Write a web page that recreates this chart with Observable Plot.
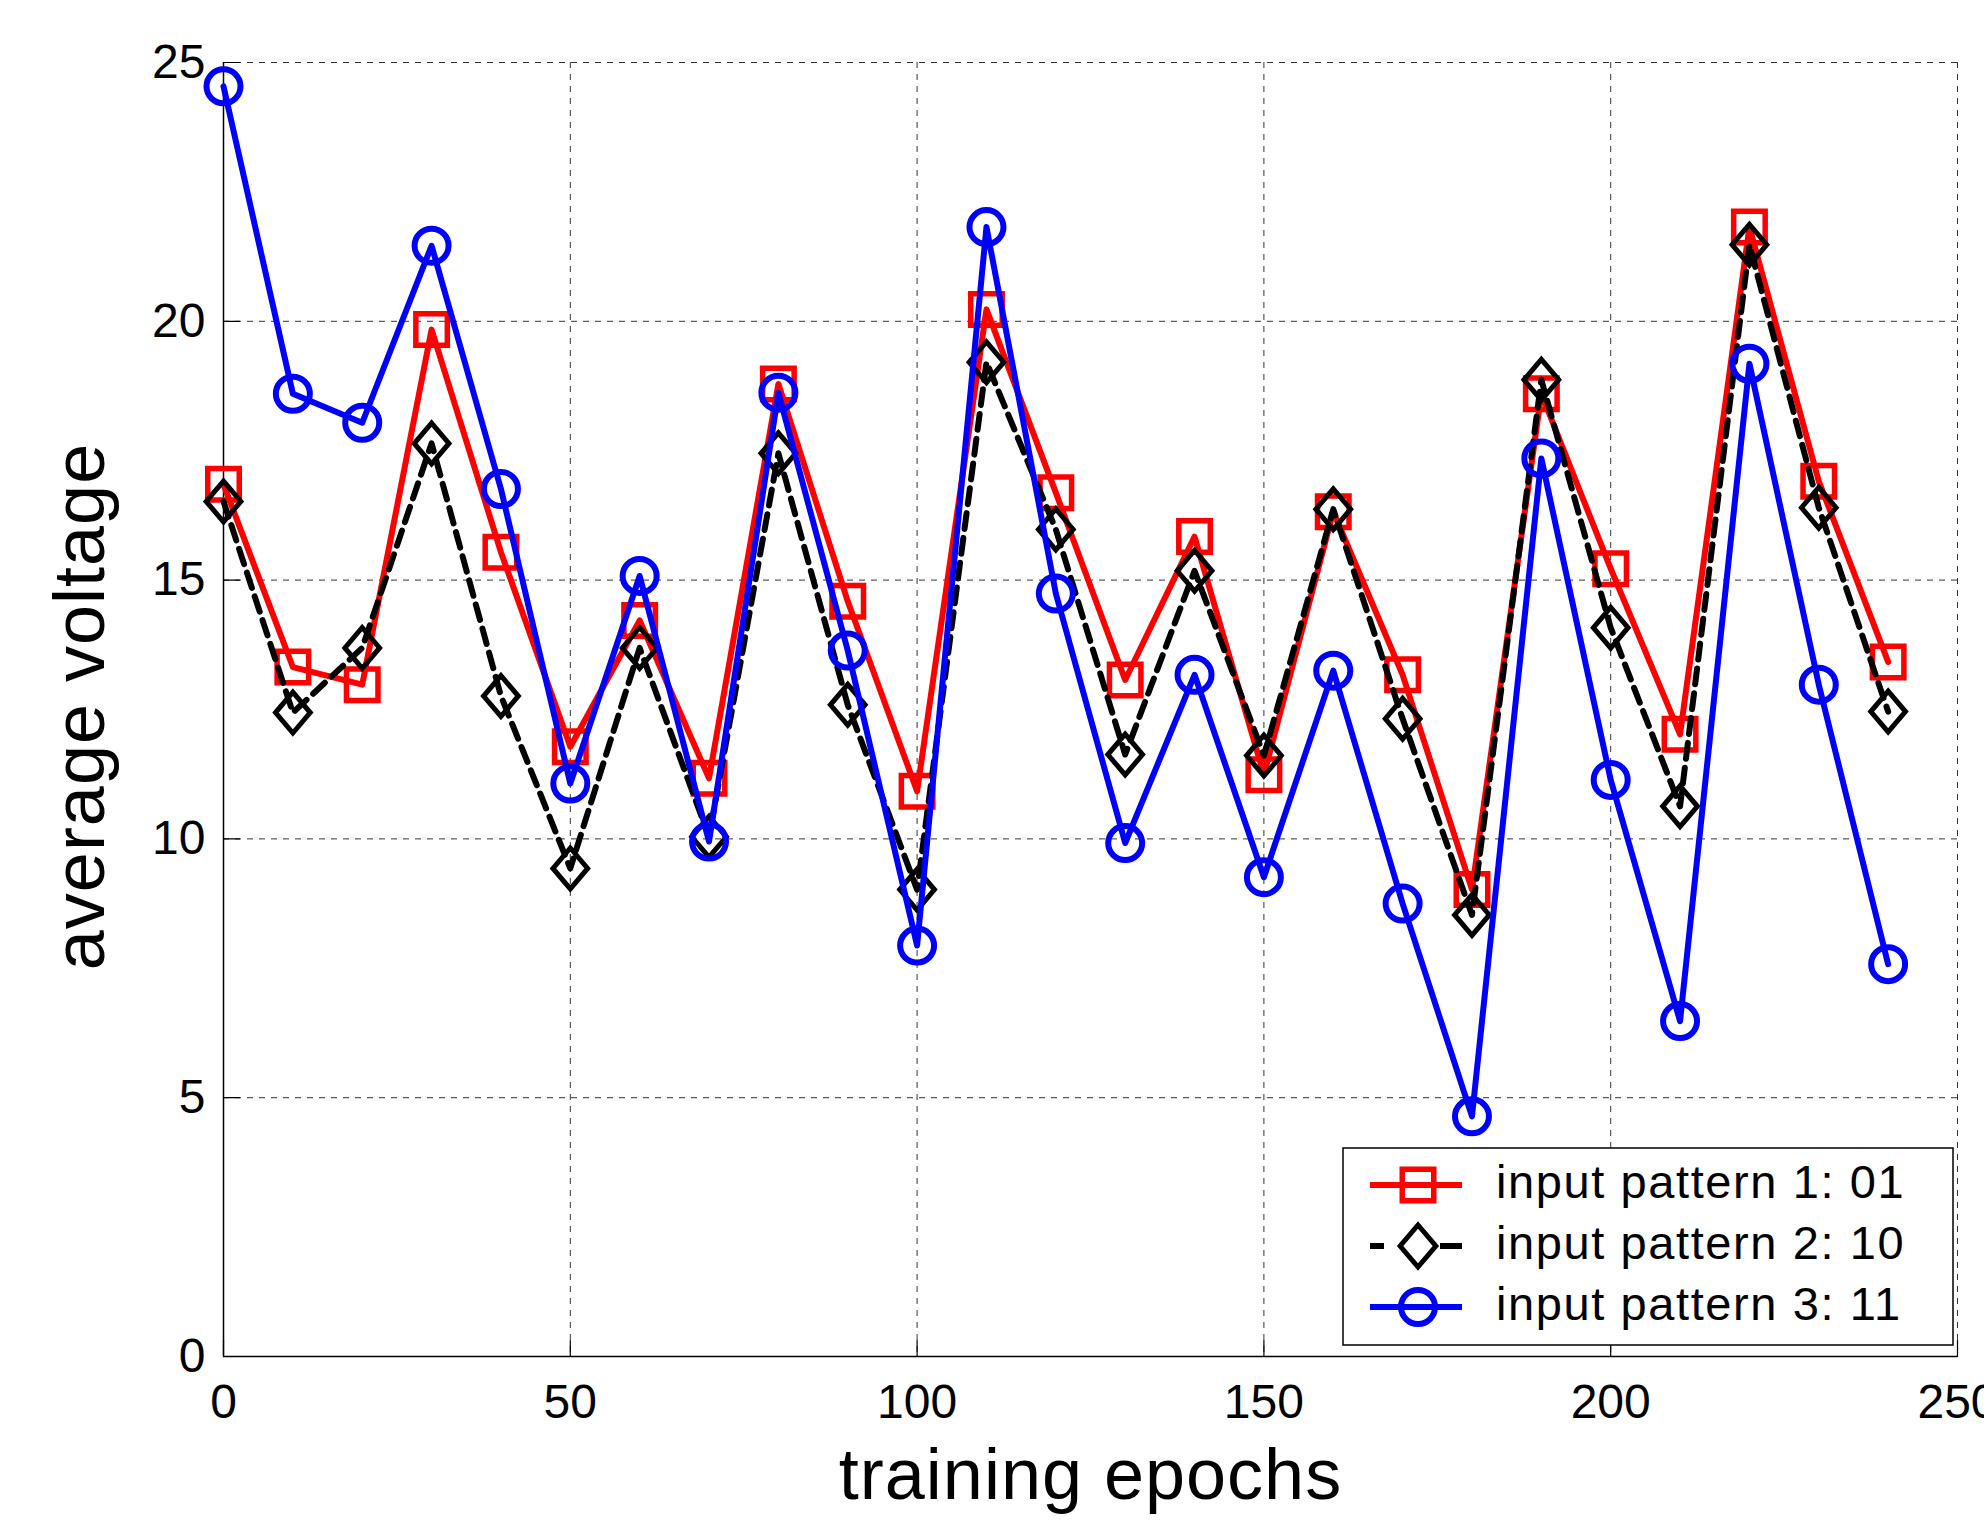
<!DOCTYPE html>
<html><head><meta charset="utf-8">
<script src="https://cdn.jsdelivr.net/npm/d3@7"></script>
<script src="https://cdn.jsdelivr.net/npm/@observablehq/plot@0.6"></script>
<style>
html,body{margin:0;padding:0;background:#fff;}
#chart{position:relative;width:1984px;height:1522px;overflow:hidden;}
</style></head><body><div id="chart"></div>
<script>
const epochs = [0,10,20,30,40,50,60,70,80,90,100,110,120,130,140,150,160,170,180,190,200,210,220,230,240];
const pattern1 = [16.85,13.32,12.98,19.84,15.54,11.78,14.22,11.17,18.79,14.59,10.92,20.23,16.69,13.07,15.84,11.24,16.32,13.17,9.02,18.6,15.22,12.02,21.82,16.91,13.42];
const pattern2 = [16.52,12.44,13.69,17.64,12.76,9.43,13.69,10.04,17.45,12.59,9.02,19.21,15.98,11.63,15.18,11.61,16.37,12.32,8.53,18.87,14.08,10.63,21.48,16.4,12.46];
const pattern3 = [24.54,18.6,18.04,21.46,16.76,11.07,15.08,9.95,18.62,13.64,7.94,21.82,14.74,9.92,13.17,9.26,13.25,8.75,4.64,17.35,11.14,6.48,19.18,12.98,7.58];
const seriesNames = ["input pattern 1: 01", "input pattern 2: 10", "input pattern 3: 11"];
const seriesColors = ["#ff0000", "#000000", "#0000ff"];
const xTicks = [0,50,100,150,200,250];
const yTicks = [0,5,10,15,20,25];
const xLabel = "training epochs";
const yLabel = "average voltage";

const FONT = "'Liberation Sans', Arial, Helvetica, sans-serif";

const toRows = (vals) => epochs.map((e, i) => ({epoch: e, value: vals[i]}));
const d1 = toRows(pattern1), d2 = toRows(pattern2), d3r = toRows(pattern3);

const squareSym = {draw(ctx, size) {
  const r = Math.sqrt(size / Math.PI), h = r * 0.9;
  ctx.moveTo(-h, -h); ctx.lineTo(h, -h); ctx.lineTo(h, h); ctx.lineTo(-h, h); ctx.closePath();
}};
const diamondSym = {draw(ctx, size) {
  const r = Math.sqrt(size / Math.PI), h = r * 1.2, w = r * 1.02;
  ctx.moveTo(0, -h); ctx.lineTo(w, 0); ctx.lineTo(0, h); ctx.lineTo(-w, 0); ctx.closePath();
}};
const tickShape = {draw(ctx, l) { ctx.moveTo(0, 0); ctx.lineTo(0, -l); }};

const gridStyle = {stroke: "#333", strokeOpacity: 1, strokeWidth: 1, strokeDasharray: "6,6"};
const LW = 6;
const DASH = "16,9";

const plot = Plot.plot({
  width: 1984,
  height: 1522,
  marginLeft: 223,
  marginRight: 27,
  marginTop: 62,
  marginBottom: 166,
  style: {fontFamily: FONT, background: "#fff", color: "#000"},
  x: {domain: [0, 250]},
  y: {domain: [0, 25]},
  marks: [
    Plot.gridX(xTicks, gridStyle),
    Plot.gridY(yTicks, gridStyle),
    Plot.vector(xTicks, {x: d => d, frameAnchor: "bottom", length: 16, rotate: 0, anchor: "start", shape: tickShape, stroke: "#000", strokeWidth: 1.2}),
    Plot.vector(yTicks, {y: d => d, frameAnchor: "left", length: 16, rotate: 90, anchor: "start", shape: tickShape, stroke: "#000", strokeWidth: 1.2}),
    Plot.ruleX([0], {stroke: "#000", strokeWidth: 1.5}),
    Plot.ruleY([0], {stroke: "#000", strokeWidth: 1.5}),
    Plot.axisX({ticks: xTicks, tickSize: 0, tickPadding: 27, fontSize: 48, label: null, tickFormat: d => String(d)}),
    Plot.axisY({ticks: yTicks, tickSize: 0, tickPadding: 18, fontSize: 48, label: null, tickFormat: d => String(d)}),
    Plot.line(d1, {x: "epoch", y: "value", stroke: seriesColors[0], strokeWidth: LW}),
    Plot.dot(d1, {x: "epoch", y: "value", symbol: squareSym, r: 17.5, stroke: seriesColors[0], strokeWidth: 5.5, fill: "none"}),
    Plot.line(d2, {x: "epoch", y: "value", stroke: seriesColors[1], strokeWidth: LW, strokeDasharray: DASH}),
    Plot.dot(d2, {x: "epoch", y: "value", symbol: diamondSym, r: 17, stroke: seriesColors[1], strokeWidth: 5, fill: "none"}),
    Plot.line(d3r, {x: "epoch", y: "value", stroke: seriesColors[2], strokeWidth: LW}),
    Plot.dot(d3r, {x: "epoch", y: "value", symbol: "circle", r: 17, stroke: seriesColors[2], strokeWidth: 6, fill: "none"}),
    Plot.text([xLabel], {frameAnchor: "bottom", lineAnchor: "bottom", textAnchor: "middle", dy: 142, fontSize: 72, fill: "#000", text: d => d}),
    Plot.text([yLabel], {frameAnchor: "left", lineAnchor: "bottom", textAnchor: "middle", rotate: -90, dx: -120, dy: -3, fontSize: 72, fill: "#000", text: d => d})
  ]
});
document.getElementById("chart").appendChild(plot);

const svg = d3.select(plot);
svg.selectAll("text").filter(function(){ return this.textContent === xLabel || this.textContent === yLabel; }).style("letter-spacing", "1px");

// Legend (inside plot frame, lower right)
const lg = svg.append("g").attr("font-family", FONT).attr("text-anchor", "start");
lg.append("rect").attr("x", 1343).attr("y", 1148).attr("width", 610).attr("height", 197)
  .attr("fill", "#fff").attr("stroke", "#000").attr("stroke-width", 1.5);
const rowY = [1185, 1246, 1307];
const symbols = [squareSym, diamondSym, null];
seriesNames.forEach((name, i) => {
  const y = rowY[i];
  lg.append("line").attr("x1", 1370).attr("x2", 1462).attr("y1", y).attr("y2", y)
    .attr("stroke", seriesColors[i]).attr("stroke-width", LW)
    .attr("stroke-dasharray", i === 1 ? "14,20,0,100" : null);
  if (i === 1) {
    lg.append("line").attr("x1", 1440).attr("x2", 1462).attr("y1", y).attr("y2", y)
      .attr("stroke", seriesColors[i]).attr("stroke-width", LW);
  }
  if (symbols[i]) {
    lg.append("path").attr("transform", `translate(1418,${y})`)
      .attr("d", d3.symbol(symbols[i], Math.PI * 17.5 * 17.5)())
      .attr("fill", "none").attr("stroke", seriesColors[i]).attr("stroke-width", i === 1 ? 5 : 5.5);
  } else {
    lg.append("circle").attr("cx", 1418).attr("cy", y).attr("r", 17)
      .attr("fill", "none").attr("stroke", seriesColors[i]).attr("stroke-width", 6);
  }
  lg.append("text").attr("x", 1496).attr("y", y + 13).attr("font-size", 47)
    .attr("text-anchor", "start")
    .style("letter-spacing", "1.6px").attr("fill", "#000").text(name);
});
</script></body></html>
